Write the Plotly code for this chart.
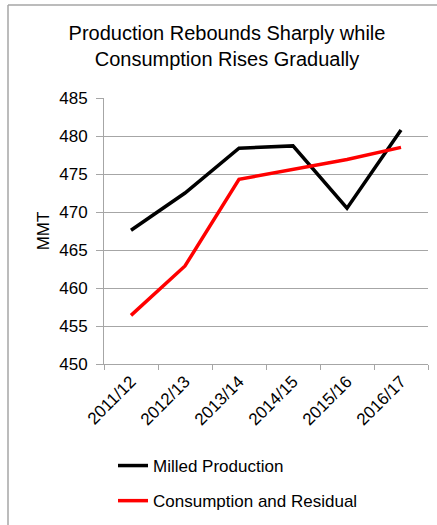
import plotly.graph_objects as go

years = ["2011/12", "2012/13", "2013/14", "2014/15", "2015/16", "2016/17"]
milled_production = [467.6, 472.5, 478.4, 478.7, 470.5, 480.8]
consumption_residual = [456.4, 462.9, 474.3, 475.6, 476.9, 478.5]

W, H = 437, 525
L, R, T, B = 104, 9, 98, 161
pw, ph = W - L - R, H - T - B

def px(x):
    return (x - L) / pw

def py(y):
    return (H - B - y) / ph

fig = go.Figure()
fig.add_trace(go.Scatter(x=years, y=milled_production, mode="lines",
                         name="Milled Production", legendgroup="a",
                         line=dict(color="#000000", width=3.5)))
fig.add_trace(go.Scatter(x=years, y=consumption_residual, mode="lines",
                         name="Consumption and Residual", legendgroup="b",
                         line=dict(color="#ff0000", width=3.5)))

grid = "#a6a6a6"
font = "Liberation Sans, Arial, sans-serif"
fig.update_layout(
    width=W, height=H,
    margin=dict(l=L, r=R, t=T, b=B, autoexpand=False),
    paper_bgcolor="white", plot_bgcolor="white",
    font=dict(family=font, size=17, color="#000000"),
    title=dict(text="Production Rebounds Sharply while<br>Consumption Rises Gradually",
               x=227 / W, xref="container", xanchor="center",
               y=1 - 40 / H, yref="container", yanchor="top",
               font=dict(family=font, size=20, color="#000000")),
    showlegend=True,
    legend=dict(x=px(113), y=py(448), xanchor="left", yanchor="top",
                orientation="v", tracegroupgap=10,
                font=dict(family=font, size=17, color="#000000"),
                bgcolor="rgba(0,0,0,0)"),
    xaxis=dict(type="category", range=[-0.5, 5.5], tickangle=-45,
               showline=True, linecolor=grid, linewidth=1,
               ticks="outside", tickson="boundaries", ticklen=5, tickcolor=grid,
               showgrid=False, tickfont=dict(size=17), automargin=False),
    yaxis=dict(range=[450, 485], dtick=5, showgrid=True, gridcolor=grid, gridwidth=1,
               showline=True, linecolor=grid, linewidth=1,
               ticks="outside", ticklen=7, tickcolor=grid, ticklabelstandoff=5,
               tickfont=dict(size=17), zeroline=False, automargin=False,
               title=dict(text="MMT", standoff=5, font=dict(size=17))),
    shapes=[
        dict(type="line", xref="paper", yref="paper",
             x0=px(8), x1=px(W + 5), y0=py(5), y1=py(5),
             line=dict(color=grid, width=1.5)),
        dict(type="line", xref="paper", yref="paper",
             x0=px(8), x1=px(8), y0=py(5), y1=py(H + 5),
             line=dict(color=grid, width=1.5)),
    ],
)

fig.write_html("out.html", config={"displayModeBar": False},
               post_script="document.body.style.margin='0';document.body.style.padding='0';")
